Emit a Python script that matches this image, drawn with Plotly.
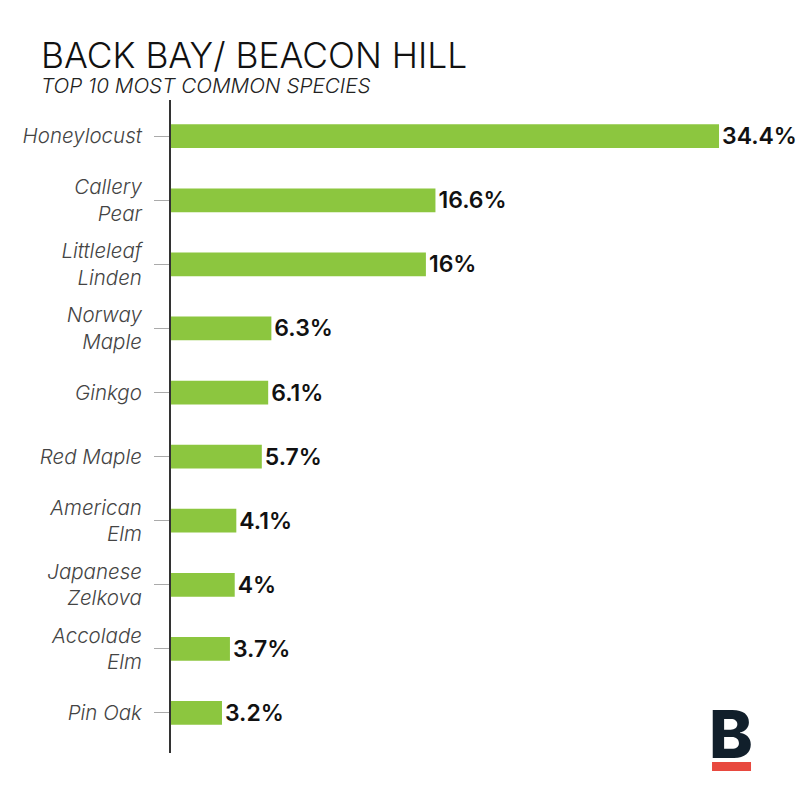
import plotly.graph_objects as go

species = ["Honeylocust", "Callery<br>Pear", "Littleleaf<br>Linden", "Norway<br>Maple", "Ginkgo",
           "Red Maple", "American<br>Elm", "Japanese<br>Zelkova", "Accolade<br>Elm", "Pin Oak"]
shares = [34.4, 16.6, 16, 6.3, 6.1, 5.7, 4.1, 4, 3.7, 3.2]

W = 800
H = 800
FONT = "Inter"

labels = [f"{s:g}%" for s in shares]

fig = go.Figure(go.Bar(
    x=shares,
    y=species,
    orientation="h",
    width=0.37,
    marker=dict(color="#8cc63f", line=dict(width=0)),
    text=labels,
    textposition="outside",
    constraintext="none",
    cliponaxis=False,
    textfont=dict(family=FONT, size=23, color="#111111", weight=600),
    hoverinfo="skip",
))

fig.update_layout(
    width=W,
    height=H,
    margin=dict(l=171, r=1, t=100, b=47),
    paper_bgcolor="white",
    plot_bgcolor="white",
    showlegend=False,
    font=dict(family=FONT),
)
fig.update_xaxes(range=[0, 39.42], visible=False, fixedrange=True)
fig.update_yaxes(
    type="category",
    categoryorder="array",
    categoryarray=species,
    range=[9.625, -0.565],
    showgrid=False,
    zeroline=False,
    showline=True,
    linecolor="#333333",
    linewidth=2,
    ticks="outside",
    ticklen=15,
    tickwidth=1,
    tickcolor="#aaaaaa",
    ticklabelstandoff=8,
    tickfont=dict(family=FONT, size=20.5, color="#444444", style="italic", weight=300),
)

# heading
fig.add_annotation(text="BACK BAY/ BEACON HILL", xref="paper", yref="paper", x=-0.2102, y=1.0,
                   xanchor="left", yanchor="bottom", yshift=21, showarrow=False,
                   font=dict(family=FONT, size=35.4, color="#111111", weight=300))
fig.add_annotation(text="TOP 10 MOST COMMON SPECIES", xref="paper", yref="paper", x=-0.2102, y=1.0,
                   xanchor="left", yanchor="bottom", yshift=0, showarrow=False,
                   font=dict(family=FONT, size=20.7, color="#222222", style="italic", weight=300))

# logo
fig.add_annotation(text="B", xref="paper", yref="paper", x=0.8924, y=0.0,
                   xanchor="center", yanchor="middle", yshift=19.5, showarrow=False,
                   font=dict(family=FONT, size=66, color="#111f2b", weight=800))
fig.add_shape(type="rect", xref="paper", yref="paper", x0=0.8615, x1=0.9236, y0=-0.0276, y1=-0.0138,
              fillcolor="#e8493f", line=dict(width=0))

# drop the default page margin so the figure fills the window
fig.write_html("out.html", config={"displayModeBar": False},
               post_script="document.body.style.margin = '0';")
